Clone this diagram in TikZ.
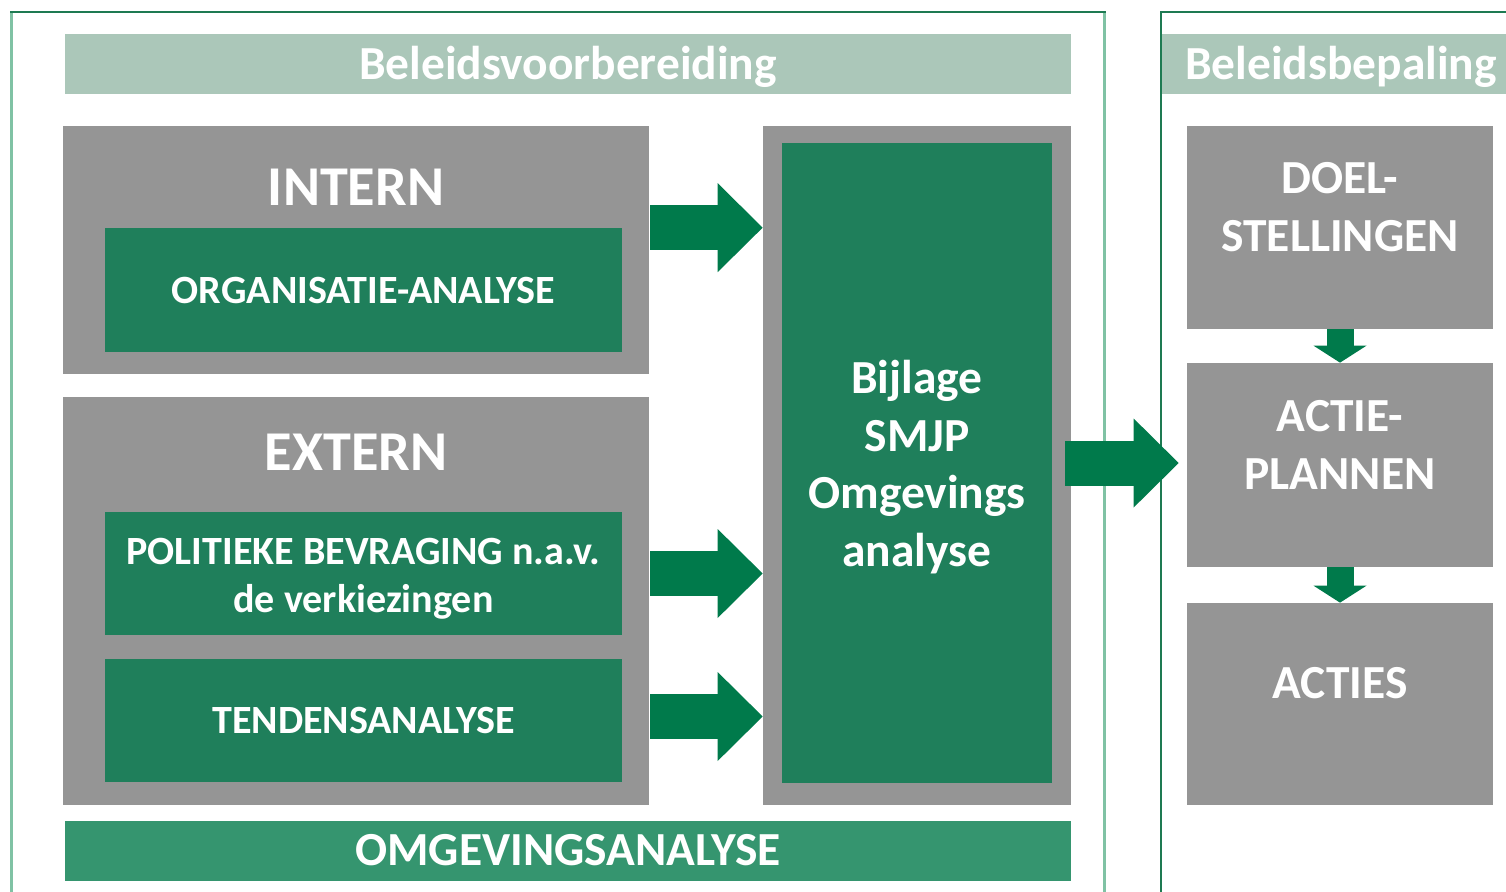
\documentclass[tikz,border=0pt]{standalone}
\usepackage{fontspec}
\setmainfont{Carlito}
\usetikzlibrary{arrows.meta}
\usetikzlibrary{positioning}

\definecolor{headc}{HTML}{ABC7B9}
\definecolor{greyc}{HTML}{959595}
\definecolor{innerc}{HTML}{1F7F5B}
\definecolor{arrowc}{HTML}{007A4B}
\definecolor{footc}{HTML}{35956F}
\definecolor{framelt}{HTML}{80C2A4}
\definecolor{framedk}{HTML}{1E7A52}

\begin{document}
\begin{tikzpicture}[x=0.2mm,y=-0.2mm]
	%\draw[help lines] (0,0) grid[step=100] (1506,891);
	\useasboundingbox (0,0) rectangle (1506,891);

	\tikzstyle{band} = [fill=headc,text=white,inner sep=0,font=\fontsize{27}{32}\selectfont\bfseries]
	\tikzstyle{gbox} = [fill=greyc,inner sep=0]
	\tikzstyle{ibox} = [fill=innerc,text=white,inner sep=0,align=center,font=\fontsize{22.8}{27.3}\selectfont\bfseries]
	\tikzstyle{itext} = [text=white,align=center,font=\fontsize{22.8}{27.3}\selectfont\bfseries]
	\tikzstyle{btext} = [text=white,align=center,font=\fontsize{32}{38}\selectfont\bfseries]
	\tikzstyle{mtext} = [text=white,align=center,font=\fontsize{27}{32.8}\selectfont\bfseries]
	\tikzstyle{barrow} = [arrowc,line width=9mm,-{Triangle[length=9mm,width=17.8mm,line width=0pt]}]
	\tikzstyle{sarrow} = [arrowc,line width=5.4mm,-{Triangle[length=3.4mm,width=10.6mm,line width=0pt]}]

	% frames
	\draw[framelt,line width=0.6mm] (11.5,12) -- (11.5,900);
	\draw[framelt,line width=0.6mm] (1104.5,12) -- (1104.5,900);
	\draw[framedk,line width=0.4mm] (10,11.5) -- (1106,11.5);
	\draw[framedk,line width=0.4mm] (1161,900) -- (1161,11.5) -- (1520,11.5);

	% headers
	\node[band,text depth=1.5pt,minimum width=1006*0.2mm,minimum height=60*0.2mm] (voorb) at (568,64) {Beleidsvoorbereiding};
	\node[band,text depth=1.5pt,minimum width=358*0.2mm,minimum height=60*0.2mm] (bepal) at (1341,64) {Beleidsbepaling};

	% intern
	\node[gbox,minimum width=586*0.2mm,minimum height=248*0.2mm] (intern) at (356,250) {};
	\node[btext] (interntxt) at (356,187) {INTERN};
	\node[ibox,minimum width=517*0.2mm,minimum height=124*0.2mm] (orga) at (363.5,290) {ORGANISATIE-ANALYSE};

	% extern
	\node[gbox,minimum width=586*0.2mm,minimum height=408*0.2mm] (extern) at (356,601) {};
	\node[btext] (externtxt) at (356,452) {EXTERN};
	\node[ibox,minimum width=517*0.2mm,minimum height=123*0.2mm] (polit) at (363.5,573.5) {};
	\node[itext] (polittxt) at (363.5,578.5) {POLITIEKE BEVRAGING n.a.v.\\de verkiezingen};
	\node[ibox,minimum width=517*0.2mm,minimum height=123*0.2mm] (tendens) at (363.5,720.5) {TENDENSANALYSE};

	% bijlage
	\node[gbox,minimum width=308*0.2mm,minimum height=679*0.2mm] (midbox) at (917,465.5) {};
	\node[ibox,minimum width=270*0.2mm,minimum height=640*0.2mm] (bijlage) at (917,463) {};
	\node[mtext] (bijlagetxt) at (917,467) {Bijlage\\SMJP\\Omgevings\\analyse};

	% footer
	\node[band,fill=footc,minimum width=1006*0.2mm,minimum height=60*0.2mm] (omgev) at (568,850.5) {OMGEVINGSANALYSE};

	% beleidsbepaling
	\node[gbox,minimum width=306*0.2mm,minimum height=203*0.2mm] (doel) at (1340,227.5) {};
	\node[mtext] (doeltxt) at (1340,207) {DOEL-\\STELLINGEN};
	\node[gbox,minimum width=306*0.2mm,minimum height=204*0.2mm] (actie) at (1340,465) {};
	\node[mtext] (actietxt) at (1340,445) {ACTIE-\\PLANNEN};
	\node[gbox,minimum width=306*0.2mm,minimum height=202*0.2mm] (acties) at (1340,704) {};
	\node[mtext] (actiestxt) at (1340,683) {ACTIES};

	% arrows
	\draw ([xshift=0.2mm]intern.east |- orga.north) edge [barrow] (midbox.west |- orga.north);
	\draw ([xshift=0.2mm]extern.east |- polit) edge [barrow] (midbox.west |- polit);
	\draw ([xshift=0.2mm,yshift=0.8mm]extern.east |- tendens) edge [barrow] ([yshift=0.8mm]midbox.west |- tendens);
	\draw ([xshift=-1.2mm]midbox.east |- bijlage) edge [barrow] ([xshift=-1.6mm]actie.west |- bijlage);

	\draw (doel.south) edge [sarrow] (actie.north);
	\draw (actie.south) edge [sarrow] (acties.north);

\end{tikzpicture}
\end{document}
